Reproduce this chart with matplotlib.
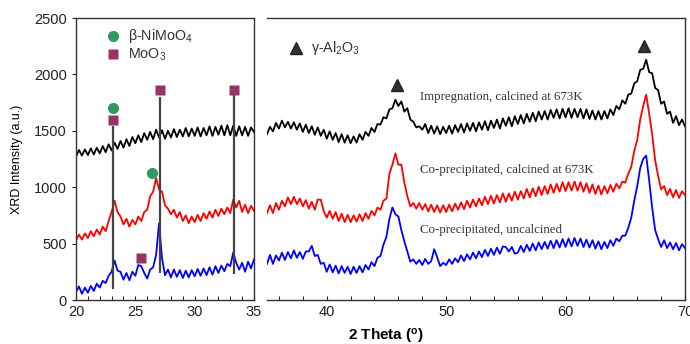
import numpy as np
import matplotlib
matplotlib.use("Agg")
import matplotlib.pyplot as plt
from matplotlib.ticker import MultipleLocator

plt.rcParams['font.family'] = ['Liberation Sans', 'DejaVu Sans']
plt.rcParams['mathtext.fontset'] = 'custom'
plt.rcParams['mathtext.rm'] = 'Liberation Sans'
plt.rcParams['mathtext.it'] = 'Liberation Sans'
plt.rcParams['mathtext.bf'] = 'Liberation Sans:bold'

# ---------------- data ----------------
left_start, left_step = 20.0, 0.25
right_start, right_step = 35.0, 0.25

imp_left = [1270, 1330, 1280, 1335, 1285, 1345, 1290, 1350, 1300, 1365, 1310, 1380,
            1325, 1395, 1340, 1410, 1350, 1425, 1365, 1445, 1390, 1460, 1400, 1480,
            1420, 1490, 1425, 1510, 1440, 1505, 1430, 1500, 1440, 1515, 1445, 1510,
            1450, 1525, 1450, 1520, 1455, 1530, 1450, 1525, 1460, 1540, 1455, 1535,
            1465, 1545, 1460, 1550, 1460, 1545, 1455, 1540, 1460, 1535, 1455, 1530, 1490]
cal_left = [530, 580, 535, 590, 550, 610, 565, 625, 580, 650, 610, 700,
            780, 880, 780, 740, 670, 720, 650, 710, 670, 740, 700, 780,
            800, 920, 960, 1080, 980, 960, 840, 810, 760, 800, 730, 780,
            700, 750, 680, 740, 690, 755, 700, 770, 720, 785, 730, 800,
            745, 810, 760, 820, 770, 890, 820, 880, 780, 845, 770, 835, 790]
unc_left = [70, 120, 55, 110, 65, 125, 80, 145, 110, 170, 150, 215,
            250, 350, 260, 250, 180, 240, 175, 250, 215, 310, 300, 240,
            190, 270, 290, 400, 680, 370, 220, 270, 200, 270, 205, 265,
            195, 260, 200, 265, 210, 275, 215, 280, 220, 290, 225, 300,
            240, 305, 255, 320, 300, 420, 330, 270, 330, 250, 340, 280, 360]

imp_right = [1470, 1535, 1495, 1570, 1520, 1590, 1530, 1580, 1520, 1575, 1510, 1565,
             1490, 1555, 1480, 1540, 1465, 1530, 1455, 1510, 1430, 1495, 1420, 1480,
             1400, 1470, 1395, 1460, 1390, 1450, 1395, 1470, 1420, 1490, 1455, 1525,
             1490, 1560, 1555, 1620, 1610, 1690, 1700, 1775, 1720, 1760, 1670, 1700,
             1600, 1580, 1530, 1540, 1510, 1560, 1480, 1545, 1475, 1540, 1470, 1535,
             1480, 1545, 1475, 1550, 1490, 1560, 1485, 1565, 1500, 1570, 1495, 1575,
             1510, 1585, 1505, 1590, 1525, 1600, 1520, 1610, 1545, 1620, 1540, 1630,
             1560, 1640, 1565, 1650, 1580, 1660, 1585, 1670, 1600, 1675, 1600, 1685,
             1615, 1690, 1610, 1695, 1620, 1700, 1615, 1695, 1620, 1695, 1610, 1690,
             1605, 1680, 1600, 1675, 1600, 1675, 1610, 1690, 1640, 1720, 1690, 1770,
             1740, 1820, 1830, 1920, 1940, 2040, 2050, 2130, 2020, 2010, 1880, 1860,
             1740, 1760, 1650, 1670, 1570, 1630, 1550, 1600, 1540]
cal_right = [770, 840, 770, 860, 800, 880, 830, 910, 850, 915, 850, 900,
             830, 885, 810, 870, 800, 890, 890, 790, 730, 790, 720, 780,
             700, 765, 690, 755, 690, 750, 695, 760, 700, 770, 720, 790,
             750, 820, 800, 880, 900, 1120, 1200, 1300, 1200, 1200, 1040, 920,
             830, 860, 810, 860, 800, 850, 785, 845, 780, 840, 775, 840,
             780, 845, 785, 855, 800, 865, 805, 880, 820, 890, 830, 900,
             840, 915, 850, 925, 855, 930, 865, 945, 870, 945, 880, 960,
             890, 965, 900, 985, 910, 990, 920, 1005, 930, 1010, 940, 1025,
             950, 1030, 960, 1045, 965, 1045, 970, 1050, 970, 1045, 960, 1035,
             950, 1025, 940, 1015, 935, 1010, 945, 1020, 960, 1030, 990, 1050,
             1040, 1120, 1180, 1320, 1420, 1600, 1720, 1820, 1650, 1470, 1240, 1100,
             980, 1010, 930, 985, 910, 975, 905, 965, 930]
unc_right = [320, 400, 320, 395, 350, 420, 355, 425, 370, 440, 375, 425,
             365, 430, 430, 480, 390, 400, 320, 330, 250, 315, 245, 305,
             235, 300, 240, 295, 230, 295, 240, 300, 245, 310, 270, 335,
             300, 375, 390, 490, 560, 720, 820, 760, 740, 620, 520, 430,
             340, 360, 320, 355, 310, 365, 320, 345, 450, 380, 300, 330,
             310, 360, 320, 370, 335, 395, 345, 405, 360, 420, 370, 430,
             380, 445, 390, 455, 400, 465, 410, 475, 470, 430, 470, 410,
             420, 480, 425, 490, 435, 500, 440, 510, 450, 515, 455, 525,
             460, 530, 465, 540, 470, 545, 475, 550, 480, 545, 470, 535,
             465, 530, 455, 520, 450, 515, 460, 530, 480, 545, 520, 570,
             570, 640, 730, 880, 1010, 1170, 1250, 1280, 1060, 820, 620, 540,
             470, 530, 460, 510, 450, 505, 440, 495, 460]

# reference lines (2theta, y_top, y_bottom)
ref_x = [23.1, 27.05, 33.3]
ref_top = [1540, 1800, 1820]
ref_bot = [100, 240, 230]

# phase markers
nimoo4_x = [23.1, 26.4]
nimoo4_y = [1700, 1130]
moo3_x = [23.1, 27.1, 33.3, 25.5]
moo3_y = [1600, 1860, 1860, 375]
al2o3_x = [45.9, 66.6]
al2o3_y = [1910, 2250]

labels = ["Impregnation, calcined at 673K",
          "Co-precipitated, calcined at 673K",
          "Co-precipitated, uncalcined"]
label_y = [1800, 1150, 620]
colors = ["black", "red", "blue"]

# ---------------- figure ----------------
fig = plt.figure(figsize=(6.9, 3.44), dpi=100)
axL = fig.add_axes([76/690, 1-300/344, 178/690, 282/344])
axR = fig.add_axes([267/690, 1-300/344, 418/690, 282/344])

xl = left_start + left_step*np.arange(len(imp_left))
xr = right_start + right_step*np.arange(len(imp_right))

for ser, c in zip([imp_left, cal_left, unc_left], colors):
    axL.plot(xl, ser, color=c, lw=1.3, zorder=2)
for ser, c in zip([imp_right, cal_right, unc_right], colors):
    axR.plot(xr, ser, color=c, lw=1.3, zorder=2)

axL.vlines(ref_x, ref_bot, ref_top, color='#444444', lw=1.6, zorder=3)
axL.plot(nimoo4_x, nimoo4_y, 'o', color='#2e9a62', ms=8, mec='none', zorder=4)
axL.plot(moo3_x, moo3_y, 's', color='#993366', ms=7.5, mec='none', zorder=4)
# legend entries
axL.plot([23.1], [2340], 'o', color='#2e9a62', ms=8, mec='none')
axL.text(24.4, 2340, "β-NiMoO$_4$", fontsize=10.3, va='center', color='#333333')
axL.plot([23.1], [2180], 's', color='#993366', ms=7.5, mec='none')
axL.text(24.4, 2170, "MoO$_3$", fontsize=10.3, va='center', color='#333333')

axR.plot(al2o3_x, al2o3_y, '^', color='#333333', ms=9, mec='#222222', zorder=4)
axR.plot([37.4], [2234], '^', color='#333333', ms=9, mec='#222222')
axR.text(38.7, 2234, "γ-Al$_2$O$_3$", fontsize=10.3, va='center', color='#333333')

for lab, yy in zip(labels, label_y):
    axR.text(47.8, yy, lab, fontsize=9.3, family='Liberation Serif', color='#333333', va='center')

for ax in (axL, axR):
    ax.set_ylim(0, 2500)
    for s in ax.spines.values():
        s.set_linewidth(1.0)
        s.set_color('#333333')
    ax.tick_params(labelsize=10.5, colors='#222222')

axL.set_xlim(20, 35)
axL.set_xticks([20, 25, 30, 35])
axL.xaxis.set_minor_locator(MultipleLocator(1))
axL.tick_params(axis='x', which='both', direction='in', length=3)
axL.tick_params(axis='y', direction='out', length=3)
axL.set_yticks([0, 500, 1000, 1500, 2000, 2500])
axL.set_ylabel("XRD Intensity (a.u.)", fontsize=9)
axL.yaxis.set_label_coords(-0.30, 0.5)

axR.set_xlim(35, 70)
axR.set_xticks([40, 50, 60, 70])
axR.xaxis.set_minor_locator(MultipleLocator(2))
axR.tick_params(axis='x', which='both', direction='in', length=3)
axR.spines['left'].set_visible(False)
axR.set_yticks([])

fig.text(386/690, 8/344, "2 Theta ($\\mathbf{^o}$)", fontsize=11, fontweight='bold',
         ha='center', va='center')

fig.savefig("out.png", dpi=100)
